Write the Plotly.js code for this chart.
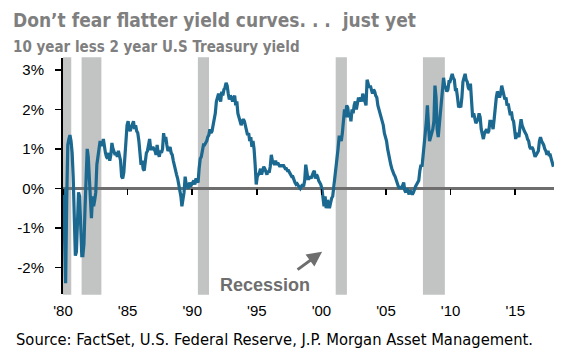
<!DOCTYPE html>
<html>
<head>
<meta charset="utf-8">
<script src="https://cdn.plot.ly/plotly-3.0.1.min.js"></script>
<style>html,body{margin:0;padding:0;background:#fff;}#chart{width:567px;height:358px;}</style>
</head>
<body>
<div id="chart"></div>
<script>
// 10 year less 2 year U.S. Treasury yield spread (%), monthly
const startYear = 1980;
const spread1980s = [
  0.0, -1.2, -2.4, -0.3, 1.1, 1.25, 1.35, 1.2, 0.9, 0.3, -0.8, -1.7,
  -1.6, -0.8, -0.1, -0.2, -1.3, -1.7, -1.7, -1.4, -0.5, 0.3, 1.0, 0.8,
  0.2, -0.4, -0.75, -0.2, -0.45, -0.3, -0.1, 0.6, 0.8, 1.0, 1.2, 1.1,
  1.1, 1.25, 1.0, 0.9, 0.8, 0.75, 0.9, 0.7, 0.85, 1.15, 1.0, 0.9,
  0.85, 0.9, 0.8, 0.95, 0.8, 0.7, 0.3, 0.25, 0.4, 0.7, 1.2, 1.6,
  1.7, 1.5, 1.45, 1.55, 1.65, 1.7, 1.5, 1.6, 1.45, 1.4, 1.2, 0.9,
  0.6, 0.7, 0.5, 0.45, 0.8, 0.9, 0.95, 1.1, 1.25, 1.0, 1.0, 1.05,
  1.0, 0.95, 0.85, 1.1, 0.9, 0.8, 0.95, 0.9, 1.0, 1.4, 1.2, 1.3,
  1.1, 0.95, 1.0, 1.05, 0.9, 0.85, 0.7, 0.55, 0.45, 0.35, 0.25, 0.1,
  0.0, -0.2, -0.45, -0.3, -0.1, 0.3, 0.1, 0.05, 0.0, 0.15, 0.05, 0.1
];
const spread1990s = [
  0.15, 0.2, 0.1, 0.25, 0.2, 0.15, 0.5, 0.75, 0.8, 1.0, 1.1, 1.1,
  1.15, 1.2, 1.3, 1.35, 1.5, 1.4, 1.45, 1.6, 1.8, 1.9, 2.2, 2.3,
  2.4, 2.3, 2.2, 2.45, 2.35, 2.5, 2.55, 2.67, 2.6, 2.4, 2.25, 2.35,
  2.3, 2.2, 2.3, 2.35, 2.1, 2.2, 1.9, 1.8, 1.7, 1.6, 1.7, 1.75,
  1.7, 1.55, 1.5, 1.35, 1.4, 1.2, 1.3, 1.05, 1.2, 1.0, 0.6, 0.1,
  0.3, 0.35, 0.4, 0.5, 0.35, 0.45, 0.55, 0.5, 0.4, 0.35, 0.45, 0.4,
  0.55, 0.85, 0.7, 0.65, 0.6, 0.7, 0.6, 0.65, 0.6, 0.55, 0.6, 0.55,
  0.6, 0.55, 0.5, 0.5, 0.45, 0.45, 0.4, 0.35, 0.3, 0.3, 0.2, 0.15,
  0.1, 0.12, 0.08, 0.05, 0.0, 0.05, 0.1, 0.05, 0.2, 0.6, 0.35, 0.25,
  0.25, 0.3, 0.25, 0.35, 0.4, 0.45, 0.25, 0.35, 0.3, 0.2, 0.15, 0.1
];
const spread2000s = [
  0.0, -0.3, -0.45, -0.2, -0.5, -0.3, -0.35, -0.5, -0.3, -0.25, -0.2, 0.0,
  0.3, 0.55, 0.75, 1.0, 1.3, 1.3, 1.2, 1.4, 1.8, 2.0, 1.8, 2.1,
  2.05, 1.8, 1.9, 1.7, 2.0, 1.9, 2.1, 2.2, 2.0, 2.2, 2.3, 2.2,
  2.3, 2.2, 2.4, 2.3, 2.2, 2.1, 2.75, 2.6, 2.55, 2.6, 2.5, 2.4,
  2.5, 2.45, 2.35, 2.3, 2.1, 2.0, 1.9, 1.8, 1.7, 1.6, 1.4, 1.3,
  1.2, 1.0, 0.85, 0.75, 0.6, 0.5, 0.4, 0.35, 0.3, 0.2, 0.15, 0.05,
  0.0, 0.05, 0.0, 0.1, 0.15, -0.05, -0.1, 0.0, -0.1, -0.15, -0.05, -0.1,
  -0.15, -0.1, 0.0, 0.05, 0.1, 0.15, 0.2, 0.45, 0.6, 0.55, 0.8, 1.0,
  1.4, 1.7, 2.1, 1.6, 1.2, 1.3, 1.4, 1.5, 1.7, 2.6, 2.3, 1.5,
  1.3, 1.6, 1.9, 2.0, 2.5, 2.8, 2.6, 2.55, 2.45, 2.5, 2.7, 2.7
];
const spread2010s = [
  2.8, 2.9, 2.8, 2.75, 2.5, 2.5, 2.3, 2.05, 2.1, 2.05, 2.3, 2.7,
  2.8, 2.9, 2.75, 2.7, 2.55, 2.5, 2.65, 2.1, 1.8, 1.9, 1.75, 1.65,
  1.7, 1.75, 1.9, 1.8, 1.5, 1.35, 1.25, 1.4, 1.45, 1.5, 1.4, 1.45,
  1.7, 1.7, 1.65, 1.5, 1.75, 2.1, 2.3, 2.45, 2.4, 2.3, 2.4, 2.6,
  2.5, 2.4, 2.25, 2.3, 2.1, 2.15, 2.0, 1.85, 1.95, 1.75, 1.7, 1.5,
  1.25, 1.4, 1.35, 1.3, 1.55, 1.75, 1.6, 1.5, 1.45, 1.4, 1.35, 1.25,
  1.2, 1.05, 1.0, 1.05, 1.0, 0.9, 0.8, 0.85, 0.9, 0.95, 1.2, 1.3,
  1.2, 1.15, 1.1, 1.0, 0.95, 0.85, 0.95, 0.85, 0.85, 0.75, 0.65, 0.55
];
// NBER recessions (start, end)
const recessionStart = ['1980-01-01', '1981-07-01', '1990-07-01', '2001-03-01', '2007-12-01'];
const recessionEnd   = ['1980-07-31', '1982-11-30', '1991-03-31', '2001-11-30', '2009-06-30'];
// axis ticks
const xTickYears = [1980, 1985, 1990, 1995, 2000, 2005, 2010, 2015];
const xTickLabels = ["'80", "'85", "'90", "'95", "'00", "'05", "'10", "'15"];
const yTickVals = [-2, -1, 0, 1, 2, 3];
const yTickLabels = ['-2%', '-1%', '0%', '1%', '2%', '3%'];

const values = [].concat(spread1980s, spread1990s, spread2000s, spread2010s);
const dates = values.map((v, i) => {
  const y = startYear + Math.floor(i / 12);
  const m = (i % 12) + 1;
  return y + '-' + String(m).padStart(2, '0') + '-15';
});
const xTickVals = xTickYears.map(y => y + '-01-01');

const yMin = -2.67, yMax = 3.3;
const xRange = ['1980-01-01', '2018-01-01'];
const zeroPos = (0 - yMin) / (yMax - yMin);

const axisFont = {family: 'Liberation Sans, Arial, sans-serif', size: 15, color: '#000'};
const narrow = 'Liberation Sans Narrow, DejaVu Sans Condensed, sans-serif';

const traces = [
  {
    x: dates, y: values, type: 'scatter', mode: 'lines',
    line: {color: '#1b6890', width: 3.2},
    hoverinfo: 'skip'
  },
  {
    x: [xRange[0]], y: [0], xaxis: 'x2', yaxis: 'y', type: 'scatter', mode: 'markers',
    marker: {opacity: 0}, hoverinfo: 'skip'
  }
];

const shapes = recessionStart.map((s, i) => ({
  type: 'rect', xref: 'x', yref: 'paper', x0: s, x1: recessionEnd[i], y0: 0, y1: 1,
  fillcolor: '#c2c3c3', line: {color: '#c2c3c3', width: 1.5}, layer: 'below'
}));

const layout = {
  width: 567, height: 358,
  margin: {l: 63, r: 13, t: 58, b: 64},
  paper_bgcolor: '#fff', plot_bgcolor: 'rgba(0,0,0,0)',
  showlegend: false,
  xaxis: {
    type: 'date', range: xRange, showgrid: false, zeroline: false, showline: false,
    tickvals: xTickVals, ticktext: xTickLabels, ticks: '', tickfont: axisFont,
    ticklabelstandoff: 6, fixedrange: true
  },
  xaxis2: {
    type: 'date', range: xRange, overlaying: 'x', anchor: 'free', position: zeroPos,
    showgrid: false, zeroline: false, showline: false, showticklabels: false,
    tickvals: xTickVals, ticks: 'outside', ticklen: 6, tickwidth: 1.5, tickcolor: '#000'
  },
  yaxis: {
    range: [yMin, yMax], tickvals: yTickVals, ticktext: yTickLabels, tickfont: axisFont,
    showgrid: false, showline: true, linecolor: '#000', linewidth: 2,
    ticks: 'outside', ticklen: 6, tickwidth: 1.5, tickcolor: '#000',
    zeroline: true, zerolinecolor: '#6e6e6e', zerolinewidth: 2.5,
    ticklabelstandoff: 8, fixedrange: true
  },
  shapes: shapes,
  annotations: [
    {
      text: "Don’t fear flatter yield curves. . .  just yet",
      xref: 'paper', yref: 'paper', x: (11 - 63) / 491, y: 1 + (58 - 19.7) / 236,
      xanchor: 'left', yanchor: 'middle', showarrow: false,
      font: {family: narrow, size: 19, color: '#7f7f7f', weight: 'bold'}
    },
    {
      text: '10 year less 2 year U.S Treasury yield',
      xref: 'paper', yref: 'paper', x: (11 - 63) / 491, y: 1 + (58 - 47.2) / 236,
      xanchor: 'left', yanchor: 'middle', showarrow: false,
      font: {family: narrow, size: 15, color: '#7f7f7f', weight: 'bold'}
    },
    {
      text: 'Source: FactSet, U.S. Federal Reserve, J.P. Morgan Asset Management.',
      xref: 'paper', yref: 'paper', x: (14 - 63) / 491, y: -(339 - 294) / 236,
      xanchor: 'left', yanchor: 'middle', showarrow: false,
      font: {family: narrow, size: 16.4, color: '#000'}
    },
    {
      text: '<b>Recession</b>',
      xref: 'paper', yref: 'paper', x: (265 - 63) / 491, y: (294 - 285) / 236,
      xanchor: 'center', yanchor: 'middle', showarrow: false,
      font: {family: 'Liberation Sans, Arial, sans-serif', size: 18, color: '#6e6e6e'}
    },
    {
      text: '', xref: 'x', yref: 'y', x: '2000-01-20', y: -1.6,
      showarrow: true, arrowhead: 2, arrowsize: 1, arrowwidth: 3, arrowcolor: '#6e6e6e',
      ax: -26, ay: 19, standoff: 0
    }
  ]
};

Plotly.newPlot('chart', traces, layout, {staticPlot: true, displayModeBar: false});
</script>
</body>
</html>
